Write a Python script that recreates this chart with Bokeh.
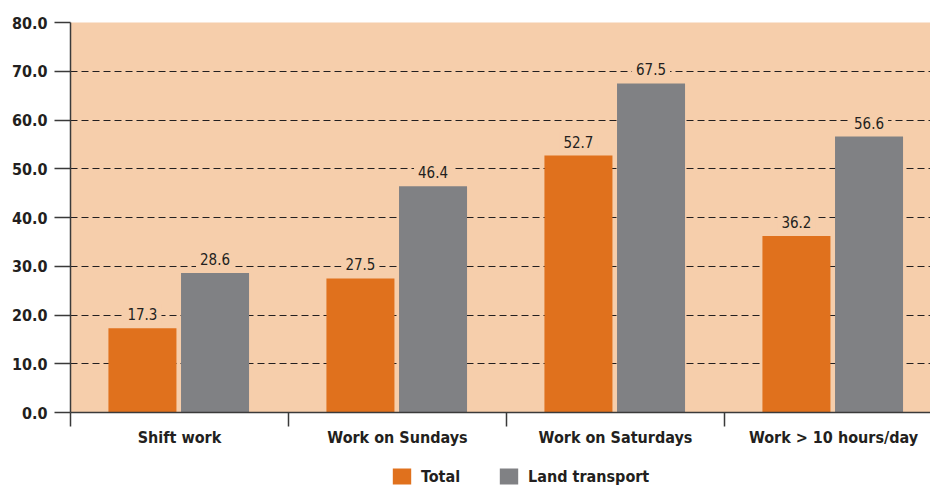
from bokeh.plotting import figure
from bokeh.layouts import column
from bokeh.models import Range1d, FixedTicker, ColumnDataSource, Legend, LegendItem, NumeralTickFormatter
from bokeh.transform import dodge
from bokeh.core.properties import value
from bokeh.embed import file_html
from bokeh.resources import INLINE

categories = ["Shift work", "Work on Sundays", "Work on Saturdays", "Work > 10 hours/day"]
total = [17.3, 27.5, 52.7, 36.2]
land_transport = [28.6, 46.4, 67.5, 56.6]
y_ticks = [0, 10, 20, 30, 40, 50, 60, 70, 80]
series_names = ["Total", "Land transport"]

FONT = "'DejaVu Sans Condensed', 'Liberation Sans Narrow', Roboto"
TEXT = "#231F20"
PEACH = "#F6CEAB"
ORANGE = "#E0711D"
GRAY = "#808184"

centers = [i + 0.5 for i in range(len(categories))]
bounds = [float(i) for i in range(len(categories) + 1)]

src = ColumnDataSource(dict(
    x=centers,
    total=total,
    land=land_transport,
    total_lbl=[f"{v:.1f}" for v in total],
    land_lbl=[f"{v:.1f}" for v in land_transport],
))

W_PX = 930
MAIN_H, LEG_H = 460, 28
LEFT, TOP, BOTTOM = 70, 22, 48
CAT_PX = 218

p = figure(width=W_PX, height=MAIN_H, output_backend="svg", toolbar_location=None,
           x_range=Range1d(0, (W_PX - LEFT) / CAT_PX), y_range=Range1d(0, 80),
           min_border_left=LEFT, min_border_right=0, min_border_top=TOP, min_border_bottom=BOTTOM)
p.background_fill_color = PEACH
p.border_fill_color = "white"
p.outline_line_color = None

p.xgrid.grid_line_color = None
p.ygrid.ticker = FixedTicker(ticks=y_ticks)
p.ygrid.grid_line_color = TEXT
p.ygrid.grid_line_dash = "7 4"
p.ygrid.grid_line_width = 1.2

OFF_T, OFF_L, W = -0.17, 0.163, 0.312
p.vbar(x=dodge("x", OFF_T, range=p.x_range), top="total", width=W, source=src,
       fill_color=ORANGE, line_color=None)
p.vbar(x=dodge("x", OFF_L, range=p.x_range), top="land", width=W, source=src,
       fill_color=GRAY, line_color=None)

for off, col, lbl in [(OFF_T, "total", "total_lbl"), (OFF_L, "land", "land_lbl")]:
    p.text(x=dodge("x", off, range=p.x_range), y=col, text=lbl, source=src,
           text_font=value(FONT), text_font_size="15px", text_color=TEXT,
           text_align="center", text_baseline="bottom", y_offset=-4,
           background_fill_color=PEACH, padding=4)

# y axis
ya = p.yaxis[0]
ya.ticker = FixedTicker(ticks=y_ticks)
ya.formatter = NumeralTickFormatter(format="0.0")
ya.major_label_text_font = FONT
ya.major_label_text_font_style = "bold"
ya.major_label_text_font_size = "16px"
ya.major_label_text_color = TEXT
ya.major_tick_in = 0
ya.major_tick_out = 16
ya.major_label_standoff = 7
ya.minor_tick_line_color = None
ya.axis_line_color = "#3A3A3A"
ya.axis_line_width = 1.5
ya.major_tick_line_color = "#3A3A3A"
ya.major_tick_line_width = 1.5

# x axis
xa = p.xaxis[0]
xa.ticker = FixedTicker(ticks=centers, minor_ticks=bounds)
xa.major_label_overrides = {c: lab for c, lab in zip(centers, categories)}
xa.major_label_text_font = FONT
xa.major_label_text_font_style = "bold"
xa.major_label_text_font_size = "16px"
xa.major_label_text_color = TEXT
xa.major_tick_in = 0
xa.major_tick_out = 0
xa.major_label_standoff = 1
xa.minor_tick_in = 0
xa.minor_tick_out = 14
xa.minor_tick_line_color = "#3A3A3A"
xa.minor_tick_line_width = 1.5
xa.axis_line_color = "#3A3A3A"
xa.axis_line_width = 1.5

# legend strip (its frame is aligned with the main frame by the column layout)
lf = figure(width=W_PX, height=LEG_H, output_backend="svg", toolbar_location=None,
            x_range=Range1d(0, 1), y_range=Range1d(0, 1),
            min_border_left=0, min_border_right=0, min_border_top=0, min_border_bottom=0)
lf.axis.visible = False
lf.grid.visible = False
lf.outline_line_color = None
lr1 = lf.vbar(x=[10], top=[10], bottom=[9], width=0.1, fill_color=ORANGE, line_color=None)
lr2 = lf.vbar(x=[10], top=[10], bottom=[9], width=0.1, fill_color=GRAY, line_color=None)
legend = Legend(items=[LegendItem(label=series_names[0], renderers=[lr1]),
                       LegendItem(label=series_names[1], renderers=[lr2])],
                orientation="horizontal", location=(320, 2),
                glyph_width=23, glyph_height=20, label_height=20,
                label_standoff=8, spacing=37, padding=0, margin=0,
                border_line_color=None, background_fill_alpha=0,
                label_text_font=FONT, label_text_font_style="bold",
                label_text_font_size="16px", label_text_color=TEXT)
lf.add_layout(legend, "center")

layout = column(p, lf, spacing=0)
open("out.html", "w").write(file_html(layout, INLINE))
